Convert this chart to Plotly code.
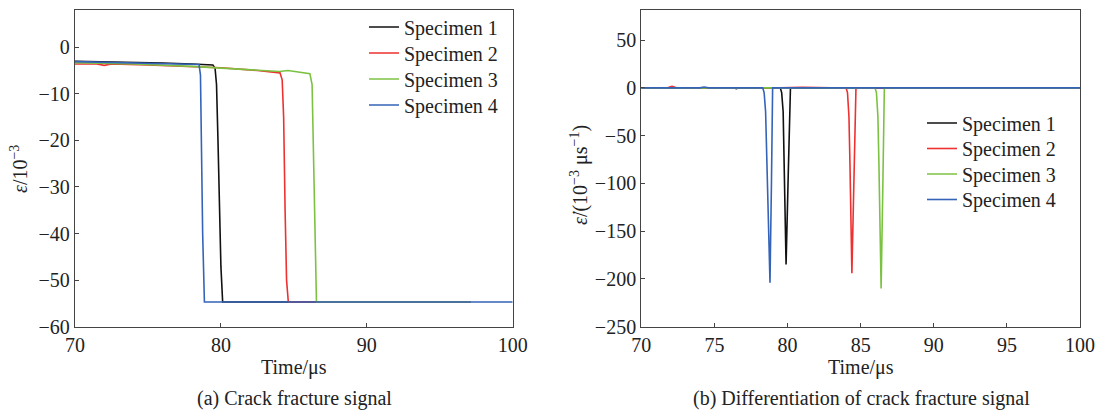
import plotly.graph_objects as go

names = ["Specimen 1", "Specimen 2", "Specimen 3", "Specimen 4"]
colors = ["#111111", "#ee3030", "#7cc242", "#3563b8"]

# (a) strain signal, epsilon / 1e-3
t_a1 = [70, 72, 74, 76, 78, 79.0, 79.45, 79.6, 79.7, 79.8, 79.9, 80.0, 80.12, 97.1]
e_a1 = [-3.0, -3.1, -3.2, -3.4, -3.6, -3.7, -3.8, -4.5, -8, -20, -35, -47, -54.7, -54.7]
t_a2 = [70, 71.5, 72.0, 72.5, 75, 78, 80, 82.5, 84.05, 84.2, 84.3, 84.4, 84.5, 84.62, 97.1]
e_a2 = [-3.6, -3.6, -3.9, -3.6, -3.8, -4.1, -4.4, -5.0, -5.5, -7, -15, -35, -50, -54.7, -54.7]
t_a3 = [70, 74, 78, 80, 82, 84.0, 84.6, 85.3, 86.1, 86.25, 86.35, 86.45, 86.55, 97.1]
e_a3 = [-3.3, -3.6, -4.1, -4.5, -4.8, -5.2, -5.0, -5.4, -5.7, -8, -25, -45, -54.7, -54.7]
t_a4 = [70, 73, 76, 78.5, 78.6, 78.65, 78.75, 78.87, 100]
e_a4 = [-3.1, -3.3, -3.5, -3.7, -6, -20, -40, -54.7, -54.7]

# (b) strain rate, 1e-3 / us
t_b1 = [70, 76.3, 76.5, 76.7, 79.5, 79.6, 79.7, 79.75, 79.82, 79.9, 80.05, 80.2, 100]
r_b1 = [0, 0, -0.8, 0, 0, -5, -25, -60, -120, -185, -90, 0, 0]
t_b2 = [70, 71.8, 72.1, 72.4, 79.5, 81, 83, 84.0, 84.1, 84.2, 84.27, 84.33, 84.4, 84.55, 84.68, 100]
r_b2 = [0, 0, 1.5, 0, 0, 0.6, 0, 0, -5, -30, -80, -140, -194, -90, 0, 0]
t_b3 = [70, 78.2, 78.4, 78.6, 85.98, 86.08, 86.18, 86.25, 86.32, 86.4, 86.52, 86.62, 100]
r_b3 = [0, 0, 0.5, 0, 0, -5, -30, -80, -150, -210, -100, 0, 0]
t_b4 = [70, 74, 74.3, 74.6, 78.3, 78.4, 78.5, 78.55, 78.65, 78.72, 78.8, 78.9, 78.98, 100]
r_b4 = [0, 0, 0.8, 0, 0, -5, -25, -60, -110, -160, -204, -100, 0, 0]

ticks_a_x = [70, 80, 90, 100]
ticks_a_y = [-60, -50, -40, -30, -20, -10, 0]
ticks_b_x = [70, 75, 80, 85, 90, 95, 100]
ticks_b_y = [-250, -200, -150, -100, -50, 0, 50]

W, H = 1099, 413
FONT = "Liberation Serif, Times New Roman, Times, serif"
TXT = "#222222"

def px_x(p):
    return p / W

def px_y(p):
    return 1 - p / H

# legend row centres (pixels)
leg_a_x, leg_a_rows = 364, [27, 53, 79, 105]
leg_b_x, leg_b_rows = 922, [123, 148.5, 174, 199.5]

fig = go.Figure()
series_a = [(t_a1, e_a1), (t_a2, e_a2), (t_a3, e_a3), (t_a4, e_a4)]
series_b = [(t_b1, r_b1), (t_b2, r_b2), (t_b3, r_b3), (t_b4, r_b4)]
legends = {}
for i, (x, y) in enumerate(series_a):
    key = "legend" if i == 0 else f"legend{i + 1}"
    fig.add_trace(go.Scatter(x=x, y=y, mode="lines", name=names[i],
                             line=dict(color=colors[i], width=1.6),
                             xaxis="x", yaxis="y", legend=key))
    legends[key] = dict(x=px_x(leg_a_x), y=px_y(leg_a_rows[i]))
for i, (x, y) in enumerate(series_b):
    key = f"legend{i + 5}"
    fig.add_trace(go.Scatter(x=x, y=y, mode="lines", name=names[i],
                             line=dict(color=colors[i], width=1.6),
                             xaxis="x2", yaxis="y2", legend=key))
    legends[key] = dict(x=px_x(leg_b_x), y=px_y(leg_b_rows[i]))

for key, pos in legends.items():
    legends[key] = dict(xanchor="left", yanchor="middle", bgcolor="rgba(0,0,0,0)",
                        font=dict(family=FONT, size=20, color=TXT),
                        itemwidth=30, borderwidth=0, **pos)

axis_common = dict(showline=True, mirror=True, linecolor="#444444", linewidth=1.3,
                   ticks="inside", ticklen=4, tickwidth=1.2, tickcolor="#444444",
                   showgrid=False, zeroline=False, automargin=False,
                   tickfont=dict(family=FONT, size=20, color=TXT))

ya = [px_y(326.7), px_y(9.5)]
fig.update_layout(
    width=W, height=H,
    margin=dict(l=0, r=0, t=0, b=0, pad=0, autoexpand=False),
    paper_bgcolor="white", plot_bgcolor="white",
    font=dict(family=FONT, size=20, color=TXT),
    xaxis=dict(domain=[px_x(75), px_x(512.7)], range=[70, 100], tickvals=ticks_a_x, anchor="y", **axis_common),
    yaxis=dict(domain=ya, range=[-60, 8.1], tickvals=ticks_a_y, anchor="x", **axis_common),
    xaxis2=dict(domain=[px_x(641.3), px_x(1080)], range=[70, 100], tickvals=ticks_b_x, anchor="y2", **axis_common),
    yaxis2=dict(domain=ya, range=[-250, 82], tickvals=ticks_b_y, anchor="x2", **axis_common),
    showlegend=True,
    **legends,
)

ann = [
    dict(text="Time/μs", x=px_x(294), y=px_y(367)),
    dict(text="Time/μs", x=px_x(861), y=px_y(367)),
    dict(text="(a) Crack fracture signal", x=px_x(294), y=px_y(398)),
    dict(text="(b) Differentiation of crack fracture signal", x=px_x(861), y=px_y(398)),
    dict(text="<i>ε</i>/10<sup>−3</sup>", x=px_x(19), y=px_y(169), textangle=-90),
    dict(text="<i>ε̇</i>/(10<sup>−3</sup> μs<sup>−1</sup>)", x=px_x(579), y=px_y(175), textangle=-90),
]
for a in ann:
    fig.add_annotation(xref="paper", yref="paper", showarrow=False,
                       xanchor="center", yanchor="middle",
                       font=dict(family=FONT, size=20, color=TXT), **a)

fig.write_html("out.html", config={"displayModeBar": False},
               post_script="document.body.style.margin='0';document.body.style.padding='0';")
